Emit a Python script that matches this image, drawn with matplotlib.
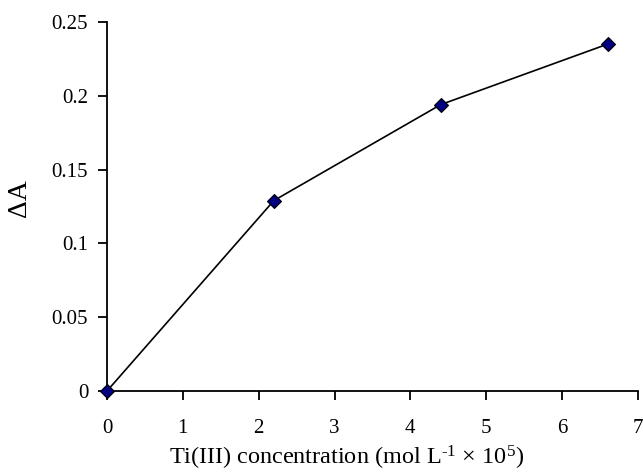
import matplotlib
matplotlib.use("Agg")
import matplotlib.pyplot as plt

# Ti(III) concentration (mol L^-1 x 10^5) vs absorbance change
conc = [0.0, 2.2, 4.4, 6.6]
delta_a = [0.0, 0.129, 0.194, 0.235]
xticks = [0, 1, 2, 3, 4, 5, 6, 7]
yticks = [0, 0.05, 0.1, 0.15, 0.2, 0.25]
ytick_labels = ["0", "0.05", "0.1", "0.15", "0.2", "0.25"]

plt.rcParams["font.family"] = ["Liberation Serif", "DejaVu Serif"]
plt.rcParams["mathtext.fontset"] = "custom"
plt.rcParams["mathtext.rm"] = "Liberation Serif"
plt.rcParams["mathtext.it"] = "Liberation Serif:italic"

fig = plt.figure(figsize=(6.43, 4.72), dpi=100)
ax = fig.add_axes([0.1664, 0.1716, 0.8256, 0.7818])

ax.plot(conc, delta_a, color="black", lw=1.2, marker="D", ms=7,
        mfc="#000080", mec="black", mew=0.8, clip_on=False, zorder=3)

ax.set_xlim(0, 7)
ax.set_ylim(0, 0.25)
ax.set_xticks(xticks)
ax.set_yticks(yticks)
ax.set_yticklabels(ytick_labels)
for s in ("top", "right"):
    ax.spines[s].set_visible(False)
for s in ("left", "bottom"):
    ax.spines[s].set_linewidth(1.3)
ax.tick_params(direction="out", length=6.5, width=1.3, labelsize=15)
ax.tick_params(axis="x", pad=14)
ax.tick_params(axis="y", pad=7)

ax.set_xlabel(r"Ti(III) concentration (mol L$^{\text{-1}}$ $\times$ 10$^{\mathregular{5}}$)",
              fontsize=17.5)
ax.xaxis.set_label_coords(0.452, -0.142)
ax.set_ylabel("ΔA", fontsize=20)
ax.yaxis.set_label_coords(-0.141, 0.523)

fig.savefig("out.png", dpi=100)
